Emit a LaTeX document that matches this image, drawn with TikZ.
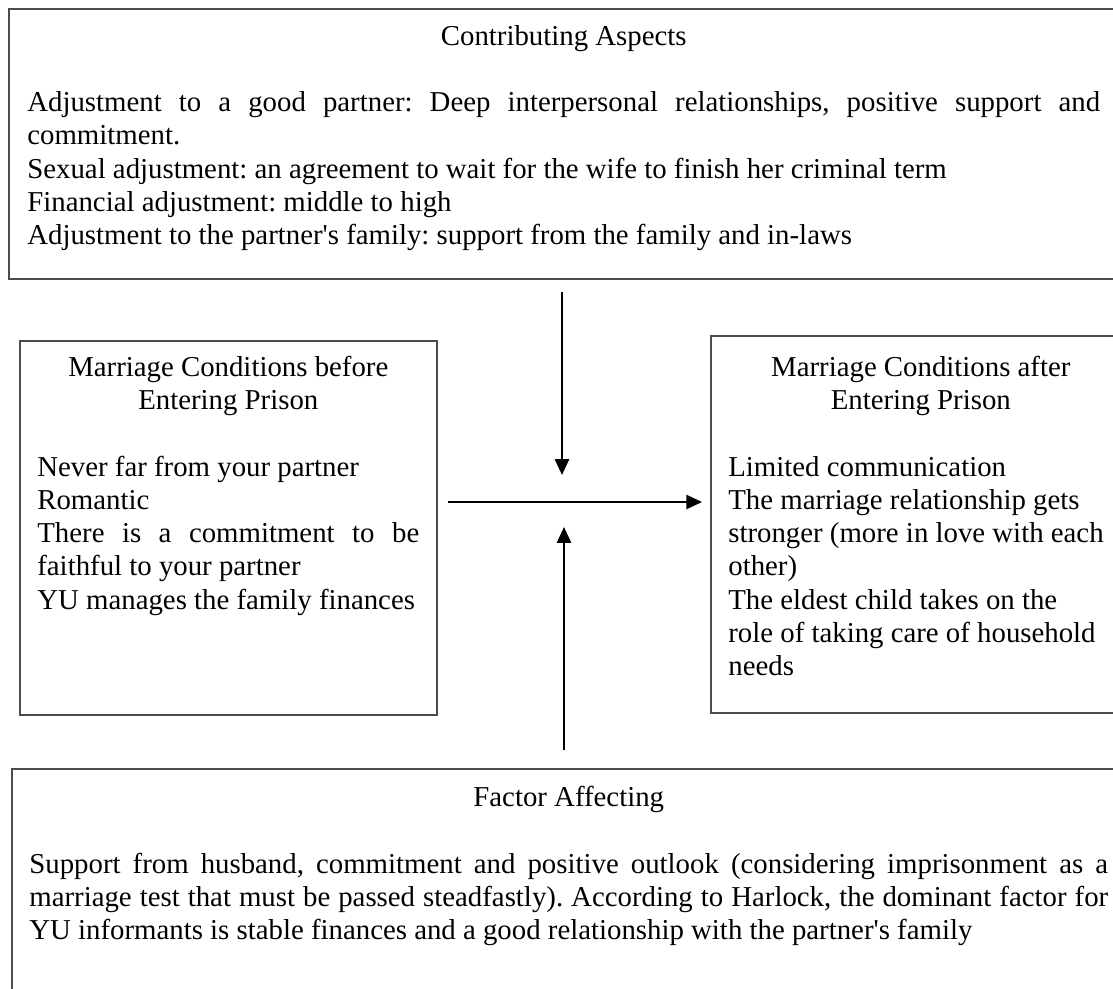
\documentclass[tikz,border=0pt]{standalone}
\usepackage{fontspec}
\setmainfont{Liberation Serif}
\usetikzlibrary{arrows.meta}
\setlength{\parskip}{0pt}
\frenchspacing
\tikzset{
  box/.style={draw=black!70, line width=0.9pt, anchor=north west, inner sep=0pt},
  txt/.style={anchor=north west, inner sep=0pt, font=\fontsize{16.4}{18.9}\selectfont},
  flow/.style={-{Triangle[length=9pt,width=8pt]}, line width=1.3pt}
}
\newcommand{\boxhead}[1]{{\centering #1\par}\vspace{\baselineskip}}
\newcommand{\sq}{\textquotesingle}
\begin{document}
\begin{tikzpicture}[x=0.02cm, y=-0.02cm]
  \useasboundingbox (0,0) rectangle (1113,988);
  \clip (0,0) rectangle (1113,988);
  \node[box, minimum width=22.28cm, minimum height=5.4cm] (aspects) at (8,8) {};
  \node[box, minimum width=8.34cm, minimum height=7.48cm] (before) at (19,340) {};
  \node[box, minimum width=8.4cm, minimum height=7.54cm] (after) at (710,335) {};
  \node[box, minimum width=22.3cm, minimum height=4.84cm] (factor) at (11,768) {};
  \node[txt, text width=21.46cm, align=justify] (aspectsText) at (27,25) {%
    \boxhead{Contributing Aspects}
    Adjustment to a good partner: Deep interpersonal relationships, positive support and\linebreak commitment.\par
    Sexual adjustment: an agreement to wait for the wife to finish her criminal term\par
    Financial adjustment: middle to high\par
    Adjustment to the partner\sq s family: support from the family and in-laws};
  \node[txt, text width=7.64cm, align=justify] (beforeText) at (37,356) {%
    \boxhead{Marriage Conditions before\par Entering Prison}
    Never far from your partner\par
    Romantic\par
    There is a commitment to be\linebreak faithful to your partner\par
    YU manages the family finances};
  \node[txt, text width=7.7cm, align=justify] (afterText) at (728,356) {%
    \boxhead{Marriage Conditions after\par Entering Prison}
    Limited communication\par
    The marriage relationship gets\par
    stronger (more in love with each\par
    other)\par
    The eldest child takes on the\par
    role of taking care of household\par
    needs};
  \node[txt, text width=21.58cm, align=justify] (factorText) at (29,786) {%
    \boxhead{Factor Affecting}
    Support from husband, commitment and positive outlook (considering imprisonment as a\linebreak marriage test that must be passed steadfastly). According to Harlock, the dominant factor for\linebreak YU informants is stable finances and a good relationship with the partner\sq s family};
  \coordinate (hub) at (563,502);
  \coordinate (inTop) at (562,475);
  \coordinate (inBot) at (564,527);
  \draw[flow, shorten <=7pt] (aspects.south -| inTop) -- (inTop);
  \draw[flow, shorten <=10pt] (factor.north -| inBot) -- (inBot);
  \draw[flow, shorten <=6pt, shorten >=4.5pt] (before.east |- hub) -- (after.west |- hub);
\end{tikzpicture}
\end{document}
